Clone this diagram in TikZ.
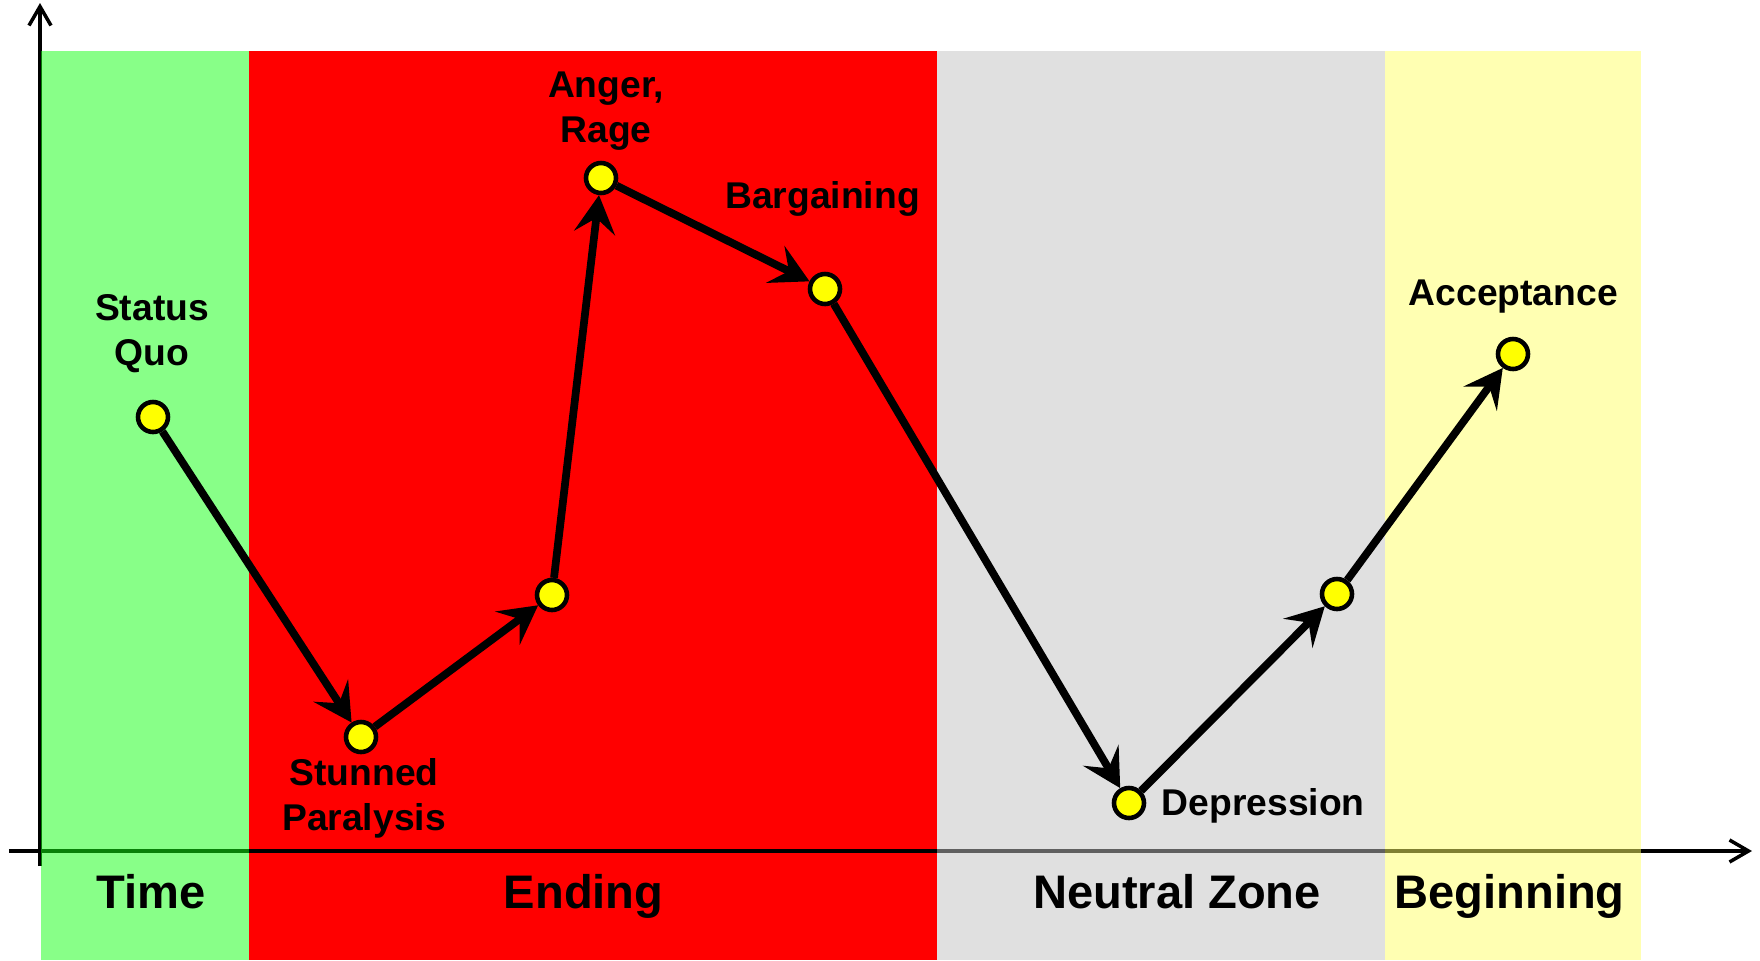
\documentclass[tikz,border=0pt]{standalone}
\usepackage{fontspec}
\setmainfont{Liberation Sans}
\usetikzlibrary{arrows.meta, positioning}
\definecolor{zonered}{RGB}{255,0,0}
\definecolor{zonegreen}{RGB}{17,255,17}
\definecolor{zonegray}{RGB}{193,193,193}
\definecolor{zoneyellow}{RGB}{255,255,101}
\definecolor{stageyellow}{RGB}{255,255,0}

\begin{document}
\begin{tikzpicture}[
    stage/.style={circle, draw=black, fill=stageyellow, line width=1.3pt,
                  minimum size=3mm, inner sep=0pt},
    stagelabel/.style={font=\fontsize{10.6}{12.8}\selectfont\bfseries, align=center, inner sep=0pt},
    zonelabel/.style={font=\fontsize{13.4}{16}\selectfont\bfseries, inner sep=0pt, anchor=base},
    arrow/.style={-{Stealth[length=3.8mm, width=4.1mm, inset=1.5mm]}, line width=2.2pt},
    axis/.style={-{Straight Barb[length=1.9mm, width=2.2mm]}, line width=1pt},
    zone/.style={fill opacity=0.5}
]
\useasboundingbox (0,0) rectangle (17.6,9.6);
%% the ending band is opaque, the axes sit on it
\fill[zonered] (2.49,0) rectangle (9.37,9.09);
\coordinate (xstart) at (0.09,1.09);
\coordinate (xend) at (17.52,1.09);
\coordinate (ystart) at (0.40,0.94);
\coordinate (yend) at (0.40,9.57);
\draw[axis] (xstart) -- (xend);
\draw[axis] (ystart) -- (yend);
%% see-through bands over the axes
\fill[zone, fill=zonegreen] (0.41,0) rectangle (2.49,9.09);
\fill[zone, fill=zonegray] (9.37,0) rectangle (13.85,9.09);
\fill[zone, fill=zoneyellow] (13.85,0) rectangle (16.41,9.09);

\node[zonelabel] (time) at (1.508,0.517) {Time};
\node[zonelabel] (ending) at (5.836,0.517) {Ending};
\node[zonelabel] (neutral) at (11.77,0.517) {Neutral Zone};
\node[zonelabel] (beginning) at (15.095,0.517) {Beginning};

%% stages of the curve
\node[stage] (quo) at (1.53,5.43) {};
\node[stage] (stunned) at (3.61,2.23) {};
\node[stage] (rise) at (5.52,3.65) {};
\node[stage] (anger) at (6.01,7.82) {};
\node[stage] (bargain) at (8.25,6.71) {};
\node[stage] (depress) at (11.29,1.57) {};
\node[stage] (recover) at (13.37,3.66) {};
\node[stage] (accept) at (15.13,6.06) {};

\node[stagelabel] (quolbl) at (1.52,6.26) {Status\\Quo};
\node[stagelabel] (stunnedlbl) at (3.64,1.62) {Stunned\\Paralysis};
\node[stagelabel] (angerlbl) at (6.06,8.49) {Anger,\\Rage};
\node[stagelabel, anchor=base] (bargainlbl) at (8.225,7.52) {Bargaining};
\node[stagelabel, anchor=base] (depresslbl) at (12.633,1.45) {Depression};
\node[stagelabel, anchor=base] (acceptlbl) at (15.133,6.55) {Acceptance};

\draw[arrow] (quo) -- (stunned);
\draw[arrow] (stunned) -- (rise);
\draw[arrow] (rise) -- (anger);
\draw[arrow] (anger) -- (bargain);
\draw[arrow] (bargain) -- (depress);
\draw[arrow] (depress) -- (recover);
\draw[arrow] (recover) -- (accept);
\end{tikzpicture}
\end{document}
